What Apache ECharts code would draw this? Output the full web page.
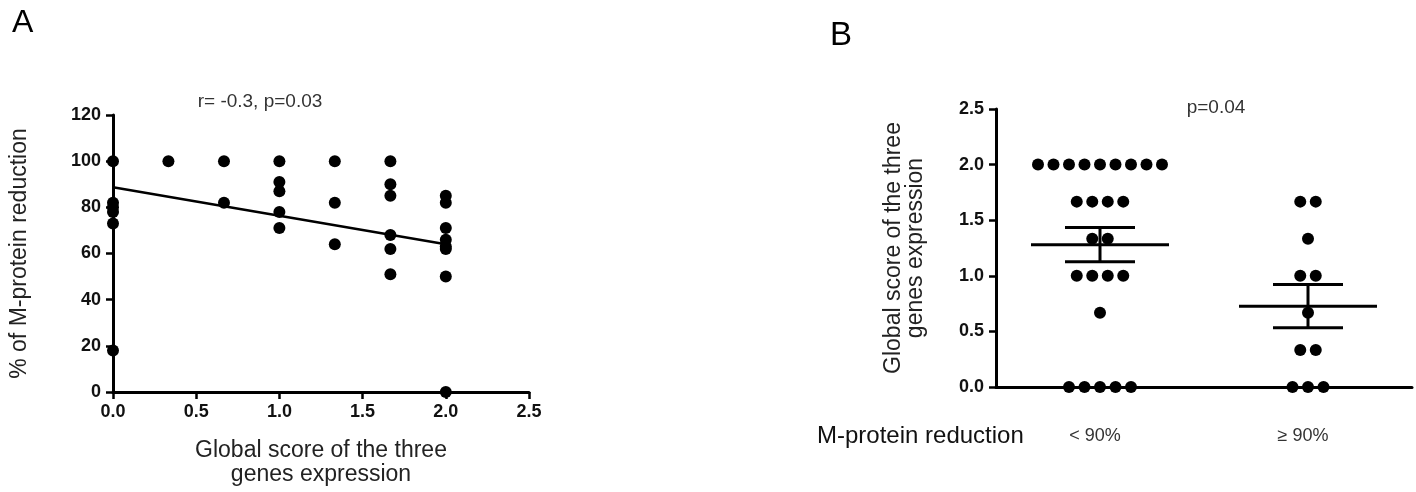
<!DOCTYPE html>
<html><head><meta charset="utf-8">
<script src="https://cdn.jsdelivr.net/npm/echarts@6/dist/echarts.min.js"></script>
<style>html,body{margin:0;padding:0;background:#fff}#c{width:1416px;height:492px}</style>
</head><body><div id="c"></div>
<script>
// ---- Panel A data ----
const scoreA = [0,0,0,0,0,0, 0.333, 0.667,0.667, 1,1,1,1,1, 1.333,1.333,1.333, 1.667,1.667,1.667,1.667,1.667,1.667, 2,2,2,2,2,2,2,2];
const reductionA = [100,82,80,78,73,18, 100, 100,82, 100,91,87,78,71, 100,82,64, 100,90,85,68,62,51, 85,82,71,66,63,62,50,0];
const fitX = [0, 2];
const fitY = [88.7, 64];
const ticksAx = [0, 0.5, 1.0, 1.5, 2.0, 2.5];
const ticksAy = [0, 20, 40, 60, 80, 100, 120];
// ---- Panel B data ----
const categoriesB = ['< 90%', '≥ 90%'];
const scoresLow = [2,2,2,2,2,2,2,2,2, 1.667,1.667,1.667,1.667, 1.333,1.333, 1,1,1,1, 0.667, 0,0,0,0,0];
const scoresHigh = [1.667,1.667, 1.333, 1,1, 0.667, 0.333,0.333, 0,0,0];
const ticksBy = [0, 0.5, 1.0, 1.5, 2.0, 2.5];

const FONT = 'Liberation Sans, Arial, Helvetica, sans-serif';
const SPACING = 15.5;

function swarm(values, cat) {
  const counts = {}, seen = {};
  values.forEach(v => { counts[v] = (counts[v] || 0) + 1; });
  return values.map(v => {
    const i = seen[v] = (seen[v] === undefined ? 0 : seen[v] + 1);
    return [cat, v, i - (counts[v] - 1) / 2];
  });
}
function stats(values, cat) {
  const n = values.length;
  const m = values.reduce((a, b) => a + b, 0) / n;
  const sd = Math.sqrt(values.reduce((a, b) => a + (b - m) * (b - m), 0) / (n - 1));
  return [cat, m, sd / Math.sqrt(n)];
}
const dotsB = swarm(scoresLow, 0).concat(swarm(scoresHigh, 1));
const barsB = [stats(scoresLow, 0), stats(scoresHigh, 1)];

const axisLineStyle = { color: '#000', width: 3 };
const tickLabel = { color: '#111', fontFamily: FONT, fontSize: 18, fontWeight: 'bold' };

const chart = echarts.init(document.getElementById('c'));
chart.setOption({
  animation: false,
  backgroundColor: '#fff',
  grid: [
    { left: 113, top: 115, width: 416, height: 278 },
    { left: 996, top: 109, width: 416, height: 278 }
  ],
  xAxis: [
    { type: 'value', gridIndex: 0, min: ticksAx[0], max: ticksAx[ticksAx.length - 1], interval: 0.5,
      axisLine: { show: true, onZero: false, lineStyle: axisLineStyle },
      axisTick: { show: true, length: 7, lineStyle: { width: 2.5, color: '#000' } },
      axisLabel: Object.assign({ margin: 11, formatter: v => v.toFixed(1) }, tickLabel),
      splitLine: { show: false },
      name: 'Global score of the three\ngenes expression', nameLocation: 'middle', nameGap: 47,
      nameTextStyle: { fontFamily: FONT, fontSize: 23, color: '#222', lineHeight: 24 } },
    { type: 'category', gridIndex: 1, data: categoriesB, boundaryGap: true,
      axisLine: { show: true, onZero: false, lineStyle: axisLineStyle },
      axisTick: { show: false },
      axisLabel: { margin: 40, fontFamily: FONT, fontSize: 18, color: '#333', padding: [0, 10, 0, 0] },
      splitLine: { show: false } }
  ],
  yAxis: [
    { type: 'value', gridIndex: 0, min: ticksAy[0], max: ticksAy[ticksAy.length - 1], interval: 20,
      axisLine: { show: true, onZero: false, lineStyle: axisLineStyle },
      axisTick: { show: true, length: 7, lineStyle: { width: 2.5, color: '#000' } },
      axisLabel: Object.assign({ margin: 12 }, tickLabel),
      splitLine: { show: false },
      name: '% of M-protein reduction', nameLocation: 'middle', nameGap: 82,
      nameTextStyle: { fontFamily: FONT, fontSize: 23, color: '#222' } },
    { type: 'value', gridIndex: 1, min: ticksBy[0], max: ticksBy[ticksBy.length - 1], interval: 0.5,
      axisLine: { show: true, onZero: false, lineStyle: axisLineStyle },
      axisTick: { show: true, length: 7, lineStyle: { width: 2.5, color: '#000' } },
      axisLabel: Object.assign({ margin: 12, formatter: v => v.toFixed(1) }, tickLabel),
      splitLine: { show: false },
      name: 'Global score of the three\ngenes expression', nameLocation: 'middle', nameGap: 69,
      nameTextStyle: { fontFamily: FONT, fontSize: 23, color: '#222', lineHeight: 22 } }
  ],
  series: [
    { type: 'scatter', xAxisIndex: 0, yAxisIndex: 0, symbol: 'circle', symbolSize: 12, clip: false,
      itemStyle: { color: '#000', opacity: 1 }, data: scoreA.map((x, i) => [x, reductionA[i]]), z: 3 },
    { type: 'line', xAxisIndex: 0, yAxisIndex: 0, symbol: 'none', clip: false,
      lineStyle: { color: '#000', width: 2.5 }, data: fitX.map((x, i) => [x, fitY[i]]), z: 2 },
    { type: 'custom', xAxisIndex: 1, yAxisIndex: 1, clip: false, data: dotsB, z: 3,
      renderItem: (params, api) => {
        const p = api.coord([api.value(0), api.value(1)]);
        return { type: 'circle', shape: { cx: p[0] + api.value(2) * SPACING, cy: p[1], r: 6 }, style: { fill: '#000' } };
      } },
    { type: 'custom', xAxisIndex: 1, yAxisIndex: 1, clip: false, data: barsB, z: 4,
      renderItem: (params, api) => {
        const c = api.value(0), m = api.value(1), s = api.value(2);
        const pm = api.coord([c, m]), pu = api.coord([c, m + s]), pl = api.coord([c, m - s]);
        const st = { stroke: '#000', lineWidth: 3 };
        return { type: 'group', children: [
          { type: 'line', shape: { x1: pm[0] - 69, y1: pm[1], x2: pm[0] + 69, y2: pm[1] }, style: st },
          { type: 'line', shape: { x1: pu[0] - 35, y1: pu[1], x2: pu[0] + 35, y2: pu[1] }, style: st },
          { type: 'line', shape: { x1: pl[0] - 35, y1: pl[1], x2: pl[0] + 35, y2: pl[1] }, style: st },
          { type: 'line', shape: { x1: pu[0], y1: pu[1], x2: pl[0], y2: pl[1] }, style: st }
        ] };
      } }
  ],
  graphic: [
    { type: 'text', x: 12, y: 23, style: { text: 'A', font: '32px ' + FONT, fill: '#000', align: 'left', verticalAlign: 'middle', textAlign: 'left', textVerticalAlign: 'middle' } },
    { type: 'text', x: 830, y: 36, style: { text: 'B', font: '33px ' + FONT, fill: '#000', align: 'left', verticalAlign: 'middle', textAlign: 'left', textVerticalAlign: 'middle' } },
    { type: 'text', x: 260, y: 102, style: { text: 'r= -0.3, p=0.03', font: '19px ' + FONT, fill: '#333', align: 'center', verticalAlign: 'middle', textAlign: 'center', textVerticalAlign: 'middle' } },
    { type: 'text', x: 1216, y: 108, style: { text: 'p=0.04', font: '19px ' + FONT, fill: '#333', align: 'center', verticalAlign: 'middle', textAlign: 'center', textVerticalAlign: 'middle' } },
    { type: 'text', x: 817, y: 436, style: { text: 'M-protein reduction', font: '24px ' + FONT, fill: '#111', align: 'left', verticalAlign: 'middle', textAlign: 'left', textVerticalAlign: 'middle' } }
  ]
});
</script></body></html>
